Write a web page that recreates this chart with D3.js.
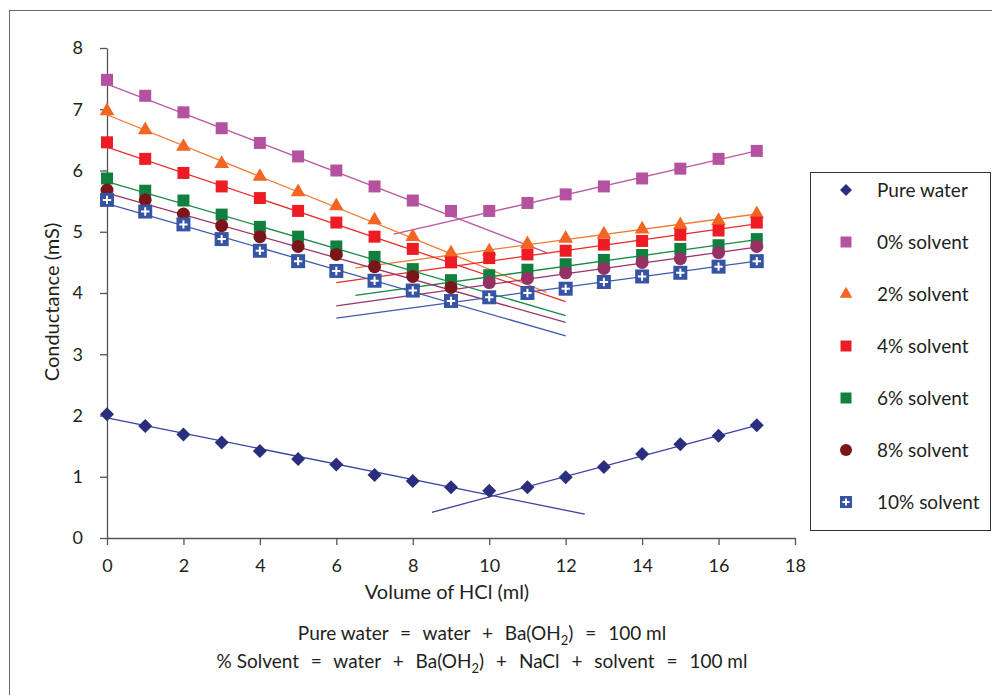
<!DOCTYPE html>
<html><head><meta charset="utf-8">
<script src="https://cdn.jsdelivr.net/npm/d3@7/dist/d3.min.js"></script>
<style>
body{margin:0;background:#fff;}
svg{display:block;font-family:Lato,"Open Sans",sans-serif;}
</style></head>
<body>
<svg id="chart" width="992" height="695"></svg>
<script>
// ---------- data ----------
const xValues = [0,1,2,3,4,5,6,7,8,9,10,11,12,13,14,15,16,17];
const seriesNames = ["Pure water","0% solvent","2% solvent","4% solvent","6% solvent","8% solvent","10% solvent"];
const pureWater = [2.02,1.83,1.69,1.56,1.42,1.29,1.20,1.03,0.93,0.83,0.77,0.83,0.99,1.16,1.37,1.53,1.67,1.84];
const solvent0  = [7.48,7.22,6.95,6.69,6.45,6.23,6.00,5.74,5.51,5.34,5.34,5.47,5.61,5.74,5.87,6.03,6.19,6.32];
const solvent2  = [6.97,6.66,6.39,6.11,5.90,5.65,5.42,5.19,4.92,4.65,4.68,4.80,4.89,4.96,5.04,5.11,5.18,5.29];
const solvent4  = [6.46,6.19,5.96,5.74,5.55,5.34,5.15,4.92,4.72,4.50,4.57,4.63,4.69,4.79,4.85,4.95,5.02,5.15];
const solvent6  = [5.87,5.67,5.51,5.28,5.08,4.92,4.76,4.59,4.39,4.21,4.29,4.38,4.47,4.54,4.62,4.72,4.78,4.88];
const solvent8  = [5.68,5.52,5.29,5.10,4.92,4.76,4.63,4.43,4.27,4.09,4.17,4.24,4.33,4.40,4.50,4.56,4.66,4.76];
const solvent10 = [5.52,5.33,5.12,4.88,4.69,4.52,4.36,4.20,4.04,3.87,3.93,4.00,4.07,4.18,4.27,4.33,4.43,4.52];
// trend lines: [xStart, yStart, xEnd, yEnd]
const fallingTrends = [[0,1.96,12.5,0.39],[0,7.41,11.5,4.66],[0,6.91,11.5,4.01],[0,6.38,12,3.86],[0,5.82,12,3.63],[0,5.63,12,3.52],[0,5.46,12,3.30]];
const risingTrends  = [[8.5,0.42,17,1.84],[7.5,4.96,17,6.32],[6.5,4.41,17,5.29],[6,4.17,17,5.13],[6.5,3.96,17,4.87],[6,3.79,17,4.75],[6,3.59,17,4.52]];
const xTicks = [0,2,4,6,8,10,12,14,16,18];
const yTicks = [0,1,2,3,4,5,6,7,8];
const noteLines = ["Pure water = water + Ba(OH_2) = 100 ml","% Solvent = water + Ba(OH_2) + NaCl + solvent = 100 ml"];

// ---------- styles ----------
const allValues = [pureWater,solvent0,solvent2,solvent4,solvent6,solvent8,solvent10];
const markerColors = ["#2a2e7c","#b5529f","#f26522","#ed1c24","#11803f","#7c1519","#3753a3"];
const lineColors   = ["#3a40a4","#bb5aa5","#f47a30","#ed2a2a","#1a8a45","#9b3465","#3d5bb0"];
const markerLateColor = "#963163"; // 8% solvent markers after endpoint
const shapes = ["diamond","square","triangle","square","square","circle","plus"];

const svg = d3.select("#chart");
const x = d3.scaleLinear().domain([0,18]).range([107,795]);
const y = d3.scaleLinear().domain([0,8]).range([538,48]);
const axisColor = "#555";
const textColor = "#231f20";

// frame
svg.append("rect").attr("x",9.5).attr("y",10.5).attr("width",1000).attr("height",700)
  .attr("fill","none").attr("stroke","#666").attr("stroke-width",1);

// axes
const gx = svg.append("g").attr("transform","translate(0,538)")
  .call(d3.axisBottom(x).tickValues(xTicks).tickSize(7).tickSizeOuter(0).tickPadding(18));
const gy = svg.append("g").attr("transform","translate(107,0)")
  .call(d3.axisLeft(y).tickValues(yTicks).tickSize(7).tickSizeOuter(0).tickPadding(17));
[gx,gy].forEach(g=>{
  g.select(".domain").attr("stroke",axisColor).attr("stroke-width",1.3);
  g.selectAll(".tick line").attr("stroke",axisColor).attr("stroke-width",1.3);
  g.selectAll(".tick text").attr("fill",textColor).style("font-size","18px").style("font-family","Lato, sans-serif");
});
gx.selectAll(".tick text").attr("dy","0.5em");

// axis titles
svg.append("text").attr("x",447).attr("y",599).attr("text-anchor","middle")
  .style("font-size","20px").attr("fill",textColor).text("Volume of HCl (ml)");
svg.append("text").attr("transform","translate(59,302) rotate(-90)").attr("text-anchor","middle")
  .style("font-size","20px").attr("fill",textColor).text("Conductance (mS)");

// trend lines
const lineGen = d3.line().x(d=>x(d[0])).y(d=>y(d[1]));
allValues.forEach((vals,i)=>{
  [fallingTrends[i],risingTrends[i]].forEach(t=>{
    svg.append("path").attr("d",lineGen([[t[0],t[1]],[t[2],t[3]]]))
      .attr("fill","none").attr("stroke",lineColors[i]).attr("stroke-width",1.3);
  });
});

// marker drawing
function drawMarker(g, shape, cx, cy, color, s){
  if(shape==="diamond"){
    g.append("path").attr("d",d3.symbol(d3.symbolSquare, s*s*0.5)())
      .attr("transform",`translate(${cx},${cy}) rotate(45)`).attr("fill",color);
  } else if(shape==="square"){
    g.append("path").attr("d",d3.symbol(d3.symbolSquare, s*s)())
      .attr("transform",`translate(${cx},${cy})`).attr("fill",color);
  } else if(shape==="triangle"){
    g.append("path").attr("d",d3.symbol(d3.symbolTriangle, Math.sqrt(3)/4*s*s*1.1)())
      .attr("transform",`translate(${cx},${cy})`).attr("fill",color);
  } else if(shape==="circle"){
    g.append("circle").attr("cx",cx).attr("cy",cy).attr("r",s/2).attr("fill",color);
  } else if(shape==="plus"){
    g.append("path").attr("d",d3.symbol(d3.symbolSquare, s*s)())
      .attr("transform",`translate(${cx},${cy})`).attr("fill",color);
    const a = s*0.3;
    g.append("path").attr("d",`M${cx-a},${cy}H${cx+a}M${cx},${cy-a}V${cy+a}`)
      .attr("stroke","#fff").attr("stroke-width",2).attr("fill","none");
  }
}
const markerSizes = {diamond:14,square:12,triangle:14,circle:13,plus:14};
allValues.forEach((vals,i)=>{
  const g = svg.append("g");
  vals.forEach((v,j)=>{
    let c = markerColors[i];
    if(i===5 && xValues[j]>=10) c = markerLateColor;
    drawMarker(g, shapes[i], x(xValues[j]), y(v), c, markerSizes[shapes[i]]);
  });
});

// legend
svg.append("rect").attr("x",810.5).attr("y",172.5).attr("width",180).attr("height",358)
  .attr("fill","#fff").attr("stroke","#333").attr("stroke-width",1);
const legSizes = {diamond:12,square:11,triangle:12,circle:12,plus:12};
seriesNames.forEach((n,i)=>{
  const ly = 190 + i*52;
  const g = svg.append("g");
  drawMarker(g, shapes[i], 846, ly, markerColors[i], legSizes[shapes[i]]);
  svg.append("text").attr("x",877).attr("y",ly).attr("dy","0.36em")
    .style("font-size","19px").attr("fill",textColor).text(n);
});

// notes: wide spacing around operators, subscript marked by "_"
function richText(t, str){
  const pieces = str.split(/ ([=+]) /);
  pieces.forEach((p,k)=>{
    if(k%2===1){
      t.append("tspan").attr("dx",7).text(" " + p + " ");
      return;
    }
    const sub = p.split("_");
    const first = t.append("tspan").text(sub[0]);
    if(k>0) first.attr("dx",7);
    if(sub.length>1){
      t.append("tspan").attr("dy",5).style("font-size","13px").text(sub[1][0]);
      t.append("tspan").attr("dy",-5).text(sub[1].slice(1));
    }
  });
}
noteLines.forEach((s,i)=>{
  const t = svg.append("text").attr("x",482).attr("y",640 + i*28).attr("text-anchor","middle")
    .style("font-size","19px").attr("fill",textColor);
  richText(t, s);
});
</script>
</body></html>
